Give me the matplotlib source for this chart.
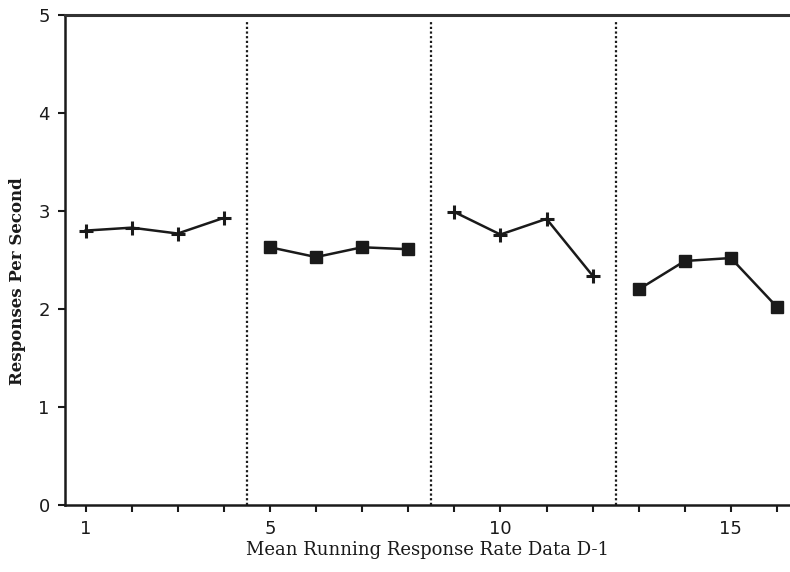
import matplotlib
matplotlib.use("Agg")
import matplotlib.pyplot as plt

# Session phases: sessions and response rates (responses per second)
phase1_x = [1, 2, 3, 4]
phase1_y = [2.80, 2.83, 2.77, 2.93]
phase2_x = [5, 6, 7, 8]
phase2_y = [2.63, 2.53, 2.63, 2.61]
phase3_x = [9, 10, 11, 12]
phase3_y = [2.99, 2.76, 2.92, 2.34]
phase4_x = [13, 14, 15, 16]
phase4_y = [2.20, 2.49, 2.52, 2.02]

phase_breaks = [4.5, 8.5, 12.5]
x_ticklabels = {1: "1", 5: "5", 10: "10", 15: "15"}

fig = plt.figure(figsize=(7.9, 5.72), dpi=100)
ax = fig.add_axes([65 / 790, 1 - 505 / 572, 1 - 65 / 790, (505 - 15) / 572])

ink = "#1a1a1a"
for xs, ys, mk in [(phase1_x, phase1_y, "+"), (phase2_x, phase2_y, "s"),
                   (phase3_x, phase3_y, "+"), (phase4_x, phase4_y, "s")]:
    if mk == "+":
        ax.plot(xs, ys, color=ink, lw=1.8, marker="+", ms=10, mew=2.2)
    else:
        ax.plot(xs, ys, color=ink, lw=1.8, marker="s", ms=9, mfc=ink, mec=ink)

ax.vlines(phase_breaks, 0, 4.93, colors=ink, linestyles=(0, (1, 1.1)), lw=1.6)

ax.set_xlim(0.555, 1 + (790 - 85.5) / 46.1)
ax.set_ylim(0, 5)

ticks = list(range(1, 17))
ax.set_xticks(ticks)
ax.set_xticklabels([x_ticklabels.get(t, "") for t in ticks])
ax.set_yticks([0, 1, 2, 3, 4, 5])

ax.spines["right"].set_visible(False)
for s in ["left", "bottom"]:
    ax.spines[s].set_linewidth(1.8)
    ax.spines[s].set_color(ink)
ax.spines["top"].set_linewidth(2.2)
ax.spines["top"].set_color("#333333")

ax.tick_params(axis="both", direction="out", length=5, width=1.5, colors=ink,
               labelsize=13, pad=6)
for lab in ax.get_xticklabels() + ax.get_yticklabels():
    lab.set_family("DejaVu Sans")

ax.set_xlabel("Mean Running Response Rate Data D-1", fontsize=13,
              family="DejaVu Serif", color=ink, labelpad=2)
ax.set_ylabel("Responses Per Second", fontsize=12, family="DejaVu Serif",
              fontweight="bold", color=ink)
ax.yaxis.set_label_coords(-0.054, 0.457)

fig.savefig("out.png", dpi=100)
